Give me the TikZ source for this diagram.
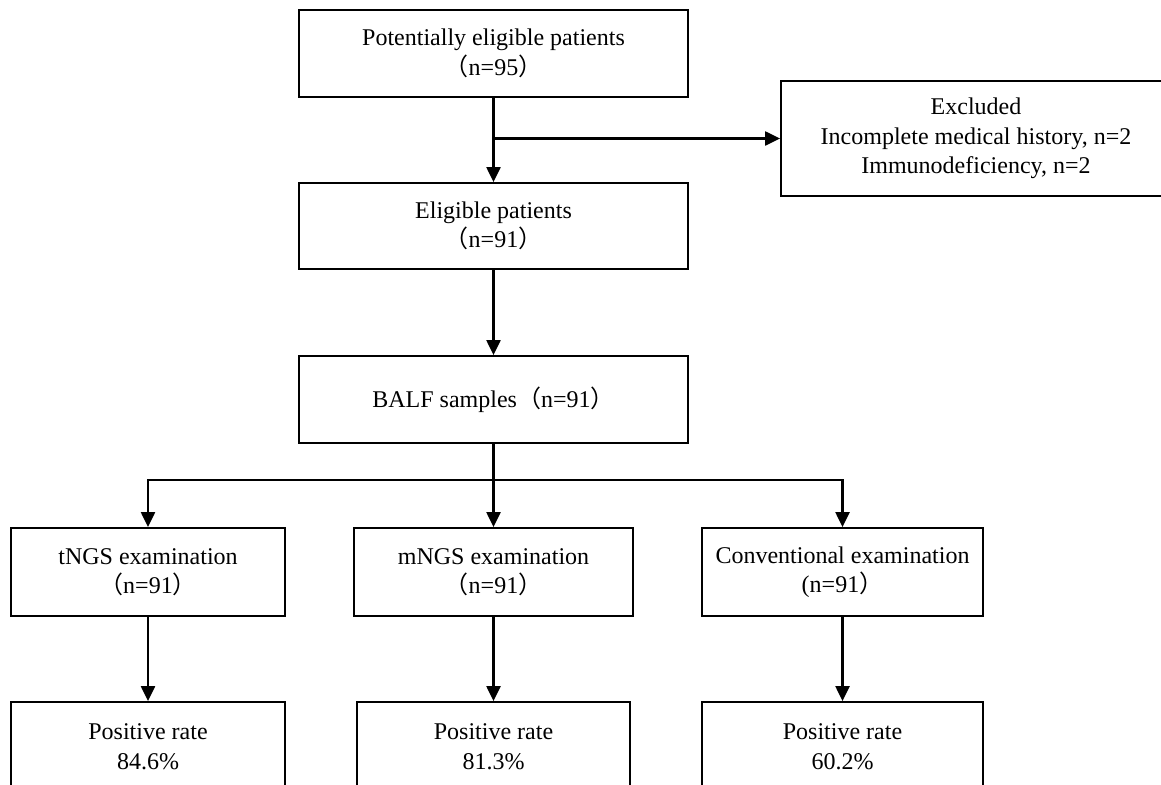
\documentclass[tikz,border=0pt]{standalone}
\usepackage{fontspec}
\setmainfont{Liberation Serif}
\newfontfamily\cjk{Noto Sans CJK SC}
\usetikzlibrary{arrows.meta}
\newcommand{\lpar}{{\cjk （}}
\newcommand{\rpar}{{\cjk ）}}
\begin{document}
\begin{tikzpicture}[x=1pt,y=-1pt,
  box/.style={draw, line width=1.8pt, inner sep=0pt, align=center,
    font=\fontsize{24}{29.5}\selectfont},
  arr/.style={line width=2.2pt, -{Triangle[width=14pt,length=15pt]}}]
\useasboundingbox (0,0) rectangle (1161,784);
\clip (0,0) rectangle (1161,784);
\node[box, minimum width=389pt, minimum height=87pt] (top) at (493.5,53.5)
  {Potentially eligible patients\\\lpar n=95\rpar};
\node[box, minimum width=390pt, minimum height=115pt] (excl) at (976,138.5)
  {Excluded\\Incomplete medical history, n=2\\Immunodeficiency, n=2};
\node[box, minimum width=389pt, minimum height=86pt] (elig) at (493.5,226)
  {Eligible patients\\\lpar n=91\rpar};
\node[box, minimum width=389pt, minimum height=87pt] (balf) at (493.5,399.5)
  {BALF samples\lpar n=91\rpar};
\node[box, minimum width=274pt, minimum height=88pt] (tngs) at (148,572)
  {tNGS examination\\\lpar n=91\rpar};
\node[box, minimum width=279pt, minimum height=88pt] (mngs) at (493.5,572)
  {mNGS examination\\\lpar n=91\rpar};
\node[box, minimum width=281pt, minimum height=88pt] (conv) at (842.5,572)
  {Conventional examination\\(n=91\rpar};
\node[box, minimum width=274pt, minimum height=89pt] (pos1) at (148,746.5)
  {Positive rate\\84.6\%};
\node[box, minimum width=273pt, minimum height=89pt] (pos2) at (493.5,746.5)
  {Positive rate\\81.3\%};
\node[box, minimum width=281pt, minimum height=89pt] (pos3) at (842.5,746.5)
  {Positive rate\\60.2\%};
\coordinate (j1) at (493.5,138.5);
\coordinate (j2) at (493.5,480);
\draw[arr] (top.south) -- (elig.north);
\draw[arr] (j1) -- (excl.west);
\draw[arr] (elig.south) -- (balf.north);
\draw[arr] (balf.south) -- (mngs.north);
\draw[arr] (j2) -| (tngs.north);
\draw[arr] (j2) -| (conv.north);
\draw[arr] (tngs.south) -- (pos1.north);
\draw[arr] (mngs.south) -- (pos2.north);
\draw[arr] (conv.south) -- (pos3.north);
\end{tikzpicture}
\end{document}
